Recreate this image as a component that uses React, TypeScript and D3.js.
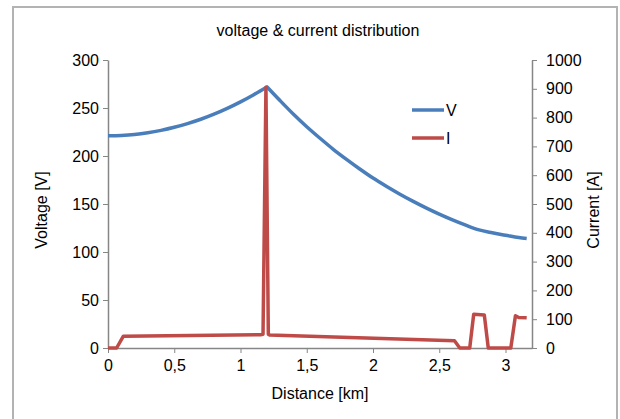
import React, { useEffect, useRef } from 'react';
import * as d3 from 'd3';

// voltage along the line (km, V)
const voltDist = [0, 0.1, 0.2, 0.3, 0.4, 0.5, 0.6, 0.7, 0.8, 0.9, 1.0, 1.1, 1.2,
  1.3, 1.4, 1.5, 1.6, 1.7, 1.8, 1.9, 2.0, 2.1, 2.2, 2.3, 2.4, 2.5, 2.6, 2.7, 2.8,
  2.9, 3.0, 3.1, 3.16];
const voltVals = [221, 221.4, 222.4, 224.2, 226.7, 229.9, 233.8, 238.3, 243.6, 249.6, 256.4, 263.9, 272,
  257.5, 243.5, 230.5, 218.5, 207, 196.5, 186.5, 177, 168.5, 160.5, 153, 146, 139.5, 133.5, 128, 123,
  120, 117.5, 115, 114];

// current along the line (km, A)
const currDist = [0, 0.065, 0.116, 1.15, 1.17, 1.192, 1.21, 1.22, 2.615, 2.655, 2.73,
  2.76, 2.84, 2.87, 3.04, 3.075, 3.1, 3.16];
const currVals = [0, 0, 41, 46, 48, 905, 48, 45, 25, 0, 0,
  117, 115, 0, 0, 112, 106, 105];

const xTicks = [0, 0.5, 1, 1.5, 2, 2.5, 3];
const vTicks = [0, 50, 100, 150, 200, 250, 300];
const iTicks = [0, 100, 200, 300, 400, 500, 600, 700, 800, 900, 1000];

const seriesNames = ['V', 'I'];
const seriesColors = ['#4a7ebb', '#be4b48'];

const W = 620, H = 419;
const margin = { top: 60, right: 88, bottom: 71, left: 108 };
const peakIdx = 12;

const App = () => {
  const ref = useRef<SVGSVGElement>(null);

  useEffect(() => {
    const svg = d3.select(ref.current);
    svg.selectAll('*').remove();
    const font = '"Liberation Sans", Arial, sans-serif';
    const fs = '16px';

    const innerW = W - margin.left - margin.right;
    const innerH = H - margin.top - margin.bottom;

    svg.append('rect')
      .attr('x', 13).attr('y', 7)
      .attr('width', 604).attr('height', 430)
      .attr('fill', '#fff')
      .attr('stroke', '#b3b3b3').attr('stroke-width', 2);

    svg.append('text')
      .attr('x', 318).attr('y', 36)
      .attr('text-anchor', 'middle')
      .style('font-family', font).style('font-size', fs)
      .text('voltage & current distribution');

    const g = svg.append('g').attr('transform', `translate(${margin.left},${margin.top})`);

    const x = d3.scaleLinear().domain([0, 3.2]).range([0, innerW]);
    const yV = d3.scaleLinear().domain([0, 300]).range([innerH, 0]);
    const yI = d3.scaleLinear().domain([0, 1000]).range([innerH, 0]);

    const styleAxis = (sel: any) => {
      sel.select('.domain').attr('stroke', '#868686').attr('stroke-width', 1.5);
      sel.selectAll('.tick line').attr('stroke', '#868686');
      sel.selectAll('.tick text')
        .style('font-family', font).style('font-size', fs).attr('fill', '#000');
    };

    g.append('g')
      .attr('transform', `translate(0,${innerH})`)
      .call(d3.axisBottom(x).tickValues(xTicks).tickSize(5).tickSizeOuter(0).tickPadding(7)
        .tickFormat((d: any) => String(d).replace('.', ',')))
      .call(styleAxis);

    g.append('g')
      .call(d3.axisLeft(yV).tickValues(vTicks).tickSize(5).tickSizeOuter(0).tickPadding(4)
        .tickFormat((d: any) => String(d)))
      .call(styleAxis);

    g.append('g')
      .attr('transform', `translate(${innerW},0)`)
      .call(d3.axisRight(yI).tickValues(iTicks).tickSize(5).tickSizeOuter(0).tickPadding(9)
        .tickFormat((d: any) => String(d)))
      .call(styleAxis);

    svg.append('text')
      .attr('x', 320).attr('y', 399)
      .attr('text-anchor', 'middle')
      .style('font-family', font).style('font-size', fs)
      .text('Distance [km]');

    svg.append('text')
      .attr('transform', 'translate(47,210) rotate(-90)')
      .attr('text-anchor', 'middle')
      .style('font-family', font).style('font-size', fs)
      .text('Voltage [V]');

    svg.append('text')
      .attr('transform', 'translate(599,210) rotate(-90)')
      .attr('text-anchor', 'middle')
      .style('font-family', font).style('font-size', fs)
      .text('Current [A]');

    const lineV = d3.line<[number, number]>()
      .x((d) => x(d[0]))
      .y((d) => yV(d[1]))
      .curve(d3.curveMonotoneX);
    const lineI = d3.line<number>()
      .x((_, i) => x(currDist[i]))
      .y((d) => yI(d));

    const vPts: [number, number][] = voltDist.map((d, i) => [d, voltVals[i]]);
    const vPath = lineV(vPts.slice(0, peakIdx + 1))! + lineV(vPts.slice(peakIdx))!.replace(/^M/, 'L');

    g.append('path')
      .attr('d', vPath)
      .attr('fill', 'none')
      .attr('stroke', seriesColors[0])
      .attr('stroke-width', 3.5)
      .attr('stroke-linejoin', 'round');

    g.append('path')
      .attr('d', lineI(currVals))
      .attr('fill', 'none')
      .attr('stroke', seriesColors[1])
      .attr('stroke-width', 3.5)
      .attr('stroke-linejoin', 'round');

    const legend = svg.append('g').attr('transform', 'translate(412,110)');
    seriesNames.forEach((name, i) => {
      legend.append('line')
        .attr('x1', 0).attr('x2', 32)
        .attr('y1', i * 28).attr('y2', i * 28)
        .attr('stroke', seriesColors[i]).attr('stroke-width', 3.5);
      legend.append('text')
        .attr('x', 34).attr('y', i * 28 + 6)
        .style('font-family', font).style('font-size', fs)
        .text(name);
    });
  }, []);

  return (
    <svg ref={ref} width={W} height={H}
      style={{ position: 'absolute', left: 0, top: 0, background: '#fff' }} />
  );
};

export default App;
